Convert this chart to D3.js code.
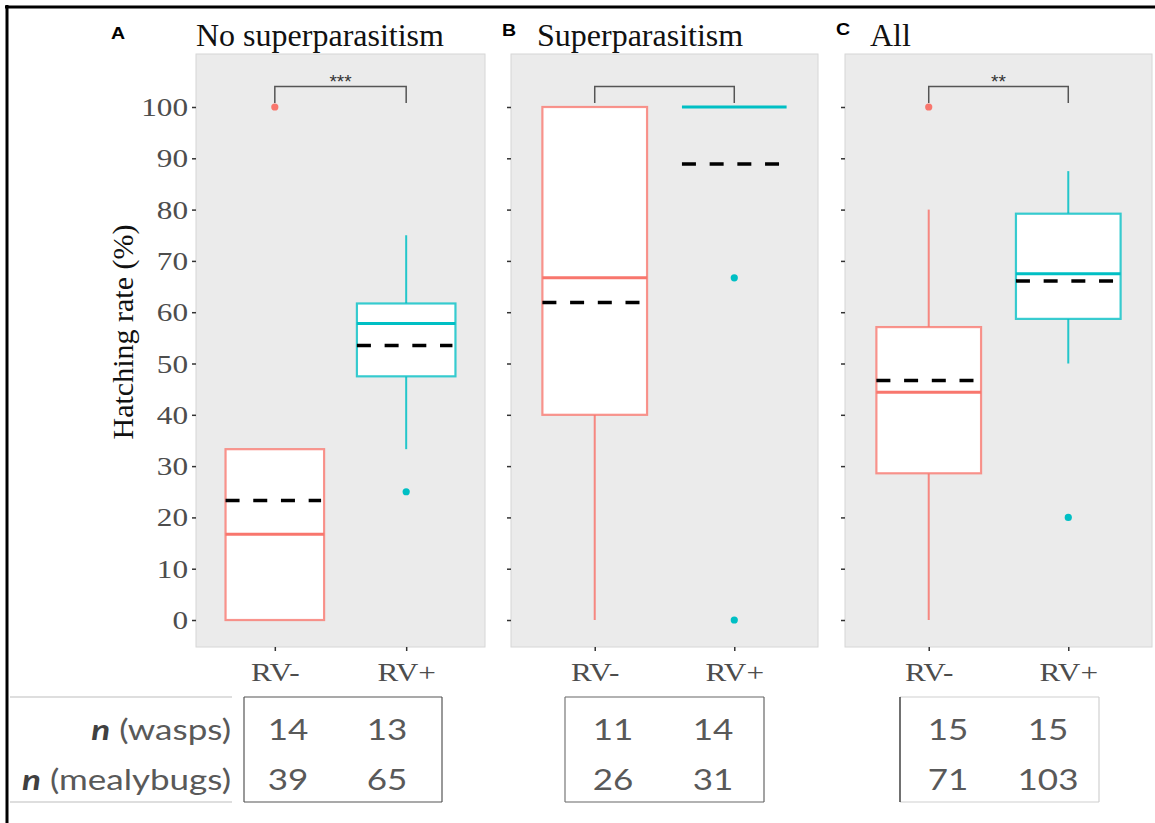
<!DOCTYPE html>
<html>
<head>
<meta charset="utf-8">
<script src="https://cdn.jsdelivr.net/npm/d3@7"></script>
<style>
  html, body { margin: 0; padding: 0; background: #fff; }
  svg { display: block; }
</style>
</head>
<body>
<svg id="chart" width="1155" height="823"></svg>
<script>
// ---------------- DATA ----------------
const panelTitles = ["No superparasitism", "Superparasitism", "All"];
const panelLetters = ["A", "B", "C"];
const groups = ["RV-", "RV+"];
const yTicks = [0, 10, 20, 30, 40, 50, 60, 70, 80, 90, 100];

// box-plot statistics per panel: [RV-, RV+]
const q1Values        = [[0, 47.5], [40, 100], [28.6, 58.7]];
const medianValues    = [[16.7, 57.8], [66.7, 100], [44.4, 67.5]];
const q3Values        = [[33.3, 61.7], [100, 100], [57.1, 79.2]];
const whiskerLow      = [[0, 33.3], [0, 100], [0, 50]];
const whiskerHigh     = [[33.3, 75], [100, 100], [80, 87.5]];
const meanValues      = [[23.3, 53.5], [61.9, 88.9], [46.7, 66.1]];
const outlierValues   = [[[100], [25]], [[], [66.7, 0]], [[100], [20]]];
const sigLabels       = ["***", "", "**"];
const bracketValue    = 104;
const bracketLegValue = 100.8;

// sample size table
const nWasps     = [[14, 13], [11, 14], [15, 15]];
const nMealybugs = [[39, 65], [26, 31], [71, 103]];
const rowLabels  = ["(wasps)", "(mealybugs)"];

// ---------------- LAYOUT / STYLE ----------------
const colors = { "RV-": "#F8766D", "RV+": "#00BFC4" };
const panelBoxes = [
  { left: 196, right: 485 },
  { left: 511, right: 818 },
  { left: 845, right: 1152 }
];
const panelTop = 54, panelBottom = 647;
const titleX = [196, 537, 870];
const letterPos = [{ x: 111, y: 39 }, { x: 502, y: 36 }, { x: 836, y: 35 }];
const tables = [
  { x0: 244, x1: 442, cols: [288, 387], border: "#555", leftBorder: "#555" },
  { x0: 565, x1: 764, cols: [613, 713], border: "#666", leftBorder: "#777" },
  { x0: 900, x1: 1099, cols: [948, 1048], border: "#d0d0d0", leftBorder: "#111" }
];
const tableTop = 697, tableBottom = 802;
const rowBaselines = [740, 790];

const svg = d3.select("#chart");

// frame (cropped screenshot border)
svg.append("line").attr("x1", 5).attr("x2", 1155).attr("y1", 7).attr("y2", 7)
  .attr("stroke", "#000").attr("stroke-width", 3);
svg.append("line").attr("x1", 7).attr("x2", 7).attr("y1", 5).attr("y2", 823)
  .attr("stroke", "#000").attr("stroke-width", 3);

const y = d3.scaleLinear().domain([-5.26, 110.33]).range([panelBottom, panelTop]);

const serif = "'Liberation Serif', 'Times New Roman', serif";
const axisFontSize = 25, axisStretch = 1.25;

panelBoxes.forEach((pb, pi) => {
  const x = d3.scalePoint().domain(groups).range([pb.left, pb.right]).padding(0.6);
  const step = x.step();
  const bw = step * 0.75;
  const g = svg.append("g");

  // panel background
  g.append("rect")
    .attr("x", pb.left).attr("y", panelTop)
    .attr("width", pb.right - pb.left).attr("height", panelBottom - panelTop)
    .attr("fill", "#EBEBEB").attr("stroke", "#d6d6d6").attr("stroke-width", 1);

  // y axis
  const yAxis = d3.axisLeft(y).tickValues(yTicks).tickSize(4).tickSizeOuter(0);
  const ya = g.append("g").attr("transform", `translate(${pb.left},0)`).call(yAxis);
  ya.select(".domain").remove();
  ya.selectAll(".tick line").attr("stroke", "#333").attr("stroke-width", 1.5);
  if (pi === 0) {
    ya.selectAll(".tick text")
      .attr("x", null).attr("dy", "0.34em")
      .attr("text-anchor", "end")
      .attr("transform", `translate(-8,0) scale(${axisStretch},1)`)
      .style("font-family", serif).style("font-size", axisFontSize + "px")
      .attr("fill", "#4D4D4D");
  } else {
    ya.selectAll(".tick text").remove();
  }

  // x axis
  const xAxis = d3.axisBottom(x).tickSize(4).tickSizeOuter(0);
  const xa = g.append("g").attr("transform", `translate(0,${panelBottom})`).call(xAxis);
  xa.select(".domain").remove();
  xa.selectAll(".tick line").attr("stroke", "#333").attr("stroke-width", 1.5);
  xa.selectAll(".tick text")
    .attr("y", null).attr("dy", null)
    .attr("text-anchor", "middle")
    .attr("transform", `translate(0,34) scale(${axisStretch},1)`)
    .style("font-family", serif).style("font-size", axisFontSize + "px")
    .attr("fill", "#4D4D4D");

  // boxes
  groups.forEach((grp, gi) => {
    const cx = x(grp);
    const col = colors[grp];
    // whiskers
    g.append("line").attr("x1", cx).attr("x2", cx)
      .attr("y1", y(q3Values[pi][gi])).attr("y2", y(whiskerHigh[pi][gi]))
      .attr("stroke", col).attr("stroke-width", 2).attr("stroke-opacity", 0.85);
    g.append("line").attr("x1", cx).attr("x2", cx)
      .attr("y1", y(q1Values[pi][gi])).attr("y2", y(whiskerLow[pi][gi]))
      .attr("stroke", col).attr("stroke-width", 2).attr("stroke-opacity", 0.85);
    // box
    g.append("rect")
      .attr("x", cx - bw / 2).attr("width", bw)
      .attr("y", y(q3Values[pi][gi]))
      .attr("height", Math.max(0, y(q1Values[pi][gi]) - y(q3Values[pi][gi])))
      .attr("fill", "#fff").attr("stroke", col).attr("stroke-width", 2.2).attr("stroke-opacity", 0.78);
    // median
    g.append("line")
      .attr("x1", cx - bw / 2).attr("x2", cx + bw / 2)
      .attr("y1", y(medianValues[pi][gi])).attr("y2", y(medianValues[pi][gi]))
      .attr("stroke", col).attr("stroke-width", 3);
    // outliers
    outlierValues[pi][gi].forEach(v => {
      g.append("circle").attr("cx", cx).attr("cy", y(v)).attr("r", 3.6).attr("fill", col);
    });
    // mean dashed line
    g.append("line")
      .attr("x1", cx - bw / 2).attr("x2", cx + bw / 2 - 3)
      .attr("y1", y(meanValues[pi][gi])).attr("y2", y(meanValues[pi][gi]))
      .attr("stroke", "#000").attr("stroke-width", 3.5)
      .attr("stroke-dasharray", "14,13.7");
  });

  // significance bracket
  const bx1 = x(groups[0]), bx2 = x(groups[1]);
  g.append("path")
    .attr("d", `M${bx1},${y(bracketLegValue)} V${y(bracketValue)} H${bx2} V${y(bracketLegValue)}`)
    .attr("fill", "none").attr("stroke", "#555").attr("stroke-width", 1.5);
  if (sigLabels[pi]) {
    g.append("text").attr("x", (bx1 + bx2) / 2).attr("y", y(bracketValue) + 1.5)
      .attr("text-anchor", "middle")
      .style("font-family", "'Liberation Sans', Arial, sans-serif").style("font-size", "19px")
      .attr("fill", "#333").text(sigLabels[pi]);
  }

  // title & letter
  svg.append("text").attr("x", titleX[pi]).attr("y", 46)
    .style("font-family", serif).style("font-size", "32px").attr("fill", "#111")
    .text(panelTitles[pi]);
  svg.append("text").attr("x", letterPos[pi].x).attr("y", letterPos[pi].y)
    .style("font-family", "'Liberation Sans', Arial, sans-serif").style("font-weight", "bold")
    .style("font-size", "17px").attr("fill", "#000")
    .attr("transform", `translate(${letterPos[pi].x},0) scale(1.15,1) translate(${-letterPos[pi].x},0)`)
    .text(panelLetters[pi]);

  // sample-size table
  const t = tables[pi];
  const tg = svg.append("g");
  tg.append("line").attr("x1", t.x0).attr("x2", t.x1).attr("y1", tableTop).attr("y2", tableTop)
    .attr("stroke", t.border).attr("stroke-width", 1.2);
  tg.append("line").attr("x1", t.x0).attr("x2", t.x1).attr("y1", tableBottom).attr("y2", tableBottom)
    .attr("stroke", t.border).attr("stroke-width", 1.2);
  tg.append("line").attr("x1", t.x1).attr("x2", t.x1).attr("y1", tableTop).attr("y2", tableBottom)
    .attr("stroke", t.border).attr("stroke-width", 1.2);
  tg.append("line").attr("x1", t.x0).attr("x2", t.x0).attr("y1", tableTop).attr("y2", tableBottom)
    .attr("stroke", t.leftBorder).attr("stroke-width", 1.2);
  [nWasps[pi], nMealybugs[pi]].forEach((row, ri) => {
    row.forEach((v, ci) => {
      tg.append("text")
        .attr("text-anchor", "middle")
        .attr("transform", `translate(${t.cols[ci]},${rowBaselines[ri]}) scale(1.25,1)`)
        .style("font-family", "Lato, 'Open Sans', sans-serif").style("font-size", "28px")
        .attr("fill", "#595959").text(v);
    });
  });
});

// row labels of the table
svg.append("line").attr("x1", 10).attr("x2", 232).attr("y1", tableTop).attr("y2", tableTop)
  .attr("stroke", "#bdbdbd").attr("stroke-width", 1);
svg.append("line").attr("x1", 10).attr("x2", 232).attr("y1", tableBottom).attr("y2", tableBottom)
  .attr("stroke", "#bdbdbd").attr("stroke-width", 1);
rowLabels.forEach((lab, ri) => {
  const tx = svg.append("text")
    .attr("text-anchor", "end")
    .attr("transform", `translate(231,${rowBaselines[ri]}) scale(1.25,1)`)
    .style("font-family", "Lato, 'Open Sans', sans-serif").style("font-size", "28px");
  tx.append("tspan").style("font-weight", "bold").style("font-style", "italic").attr("fill", "#404040").text("n");
  tx.append("tspan").attr("fill", "#595959").text(" " + lab);
});

// y axis title
svg.append("text")
  .attr("transform", "translate(133,332) rotate(-90)")
  .attr("text-anchor", "middle")
  .style("font-family", serif).style("font-size", "30px").attr("fill", "#111")
  .text("Hatching rate (%)");
</script>
</body>
</html>
